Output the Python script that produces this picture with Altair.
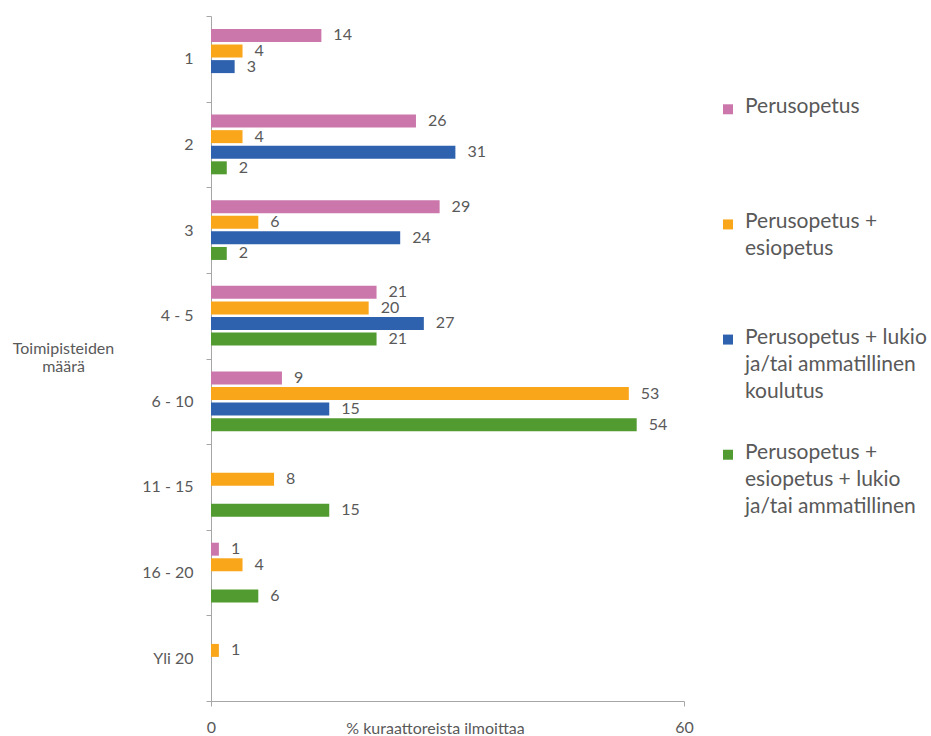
import altair as alt
import pandas as pd

categories = ["1", "2", "3", "4 - 5", "6 - 10", "11 - 15", "16 - 20", "Yli 20"]
series = [
    "Perusopetus",
    "Perusopetus  + esiopetus",
    "Perusopetus + lukio ja/tai ammatillinen koulutus",
    "Perusopetus + esiopetus + lukio ja/tai ammatillinen",
]
legend_labels = [
    "Perusopetus",
    "Perusopetus  +\nesiopetus",
    "Perusopetus + lukio\nja/tai ammatillinen\nkoulutus",
    "Perusopetus +\nesiopetus + lukio\nja/tai ammatillinen",
]
colors = ["#CB77AB", "#F9A61B", "#2F62AE", "#529B30"]

perusopetus = [14, 26, 29, 21, 9, None, 1, None]
esiopetus = [4, 4, 6, 20, 53, 8, 4, 1]
lukio = [3, 31, 24, 27, 15, None, None, None]
kaikki = [None, 2, 2, 21, 54, 15, 6, None]

rows = []
for s, vals in zip(series, [perusopetus, esiopetus, lukio, kaikki]):
    for c, v in zip(categories, vals):
        if v is not None:
            rows.append({"category": c, "series": s, "value": v})
df = pd.DataFrame(rows)

FONT = "Lato"
GREY = "#595959"
AXIS_GREY = "#A6A6A6"

color_scale = alt.Scale(domain=series, range=colors)

base = alt.Chart(df).encode(
    y=alt.Y(
        "category:N",
        sort=categories,
        scale=alt.Scale(domain=categories, paddingInner=0, paddingOuter=0),
        axis=alt.Axis(
            title=["Toimipisteiden", "määrä"],
            titleAngle=0,
            titleAlign="center",
            titleBaseline="middle",
            titleX=-148,
            titleY=332,
            titleFont=FONT,
            titleFontSize=16,
            titleFontWeight="normal",
            titleColor=GREY,
            titleLineHeight=18,
            labelFont=FONT,
            labelFontSize=16,
            labelColor=GREY,
            labelPadding=13,
            tickBand="extent",
            tickSize=5,
            tickColor=AXIS_GREY,
            domainColor=AXIS_GREY,
            grid=False,
        ),
    ),
    yOffset=alt.YOffset(
        "series:N",
        sort=series,
        scale=alt.Scale(domain=series, paddingInner=0.167, paddingOuter=0.83),
    ),
    x=alt.X(
        "value:Q",
        scale=alt.Scale(domain=[0, 60], nice=False),
        axis=alt.Axis(
            values=[0, 60],
            title="% kuraattoreista ilmoittaa",
            titleX=224,
            titleY=27,
            titleBaseline="middle",
            titleAlign="center",
            titleFont=FONT,
            titleFontSize=16,
            titleFontWeight="normal",
            titleColor=GREY,
            labelFont=FONT,
            labelFontSize=16,
            labelColor=GREY,
            labelPadding=13,
            labelFlush=False,
            tickSize=5,
            tickColor=AXIS_GREY,
            domainColor=AXIS_GREY,
            grid=False,
        ),
    ),
)

bars = base.mark_bar().encode(
    color=alt.Color("series:N", scale=color_scale, legend=None)
)
labels = base.mark_text(
    align="left", baseline="middle", dx=12, font=FONT, fontSize=16, color=GREY
).encode(text="value:Q")

main = alt.layer(bars, labels).properties(width=473, height=685)

leg_df = pd.DataFrame({"series": series, "label": legend_labels})
leg_base = alt.Chart(leg_df).encode(
    y=alt.Y(
        "series:N",
        sort=series,
        scale=alt.Scale(type="point", domain=series, padding=0.81),
        axis=None,
    ),
    x=alt.value(0),
)
squares = leg_base.mark_square(size=100, opacity=1).encode(
    color=alt.Color("series:N", scale=color_scale, legend=None)
)
texts = leg_base.mark_text(
    align="left",
    baseline="top",
    dx=17,
    dy=-13,
    lineBreak="\n",
    lineHeight=27,
    font=FONT,
    fontSize=21,
    color=GREY,
).encode(text="label:N")
legend = alt.layer(squares, texts).properties(width=190, height=532)

chart = (
    alt.hconcat(main, legend, spacing=29)
    .properties(padding={"left": 12, "top": 8, "right": 0, "bottom": 0})
    .configure_view(stroke=None)
)

chart.save("out.html", embed_options={"renderer": "svg", "actions": False})
